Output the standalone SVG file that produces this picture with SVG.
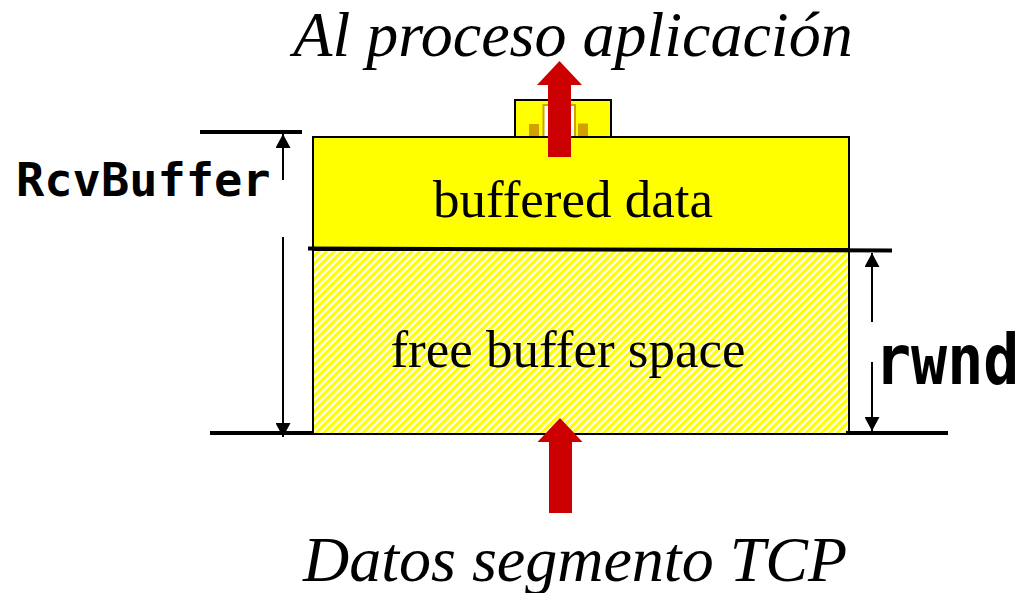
<svg xmlns="http://www.w3.org/2000/svg" width="1027" height="593" viewBox="0 0 1027 593">
  <style>
    .ital { font-family: "Liberation Serif", "Times New Roman", serif; font-style: italic; font-size: 64px; fill: #000; }
    .reg { font-family: "Liberation Serif", "Times New Roman", serif; font-size: 53px; fill: #000; }
    .mono { font-family: "DejaVu Sans Mono", "Liberation Mono", monospace; font-weight: bold; fill: #000; }
    .thin { stroke: #000; stroke-width: 2; fill: none; }
    .rule { stroke: #000; stroke-width: 4; fill: none; }
    .red { fill: #cc0000; }
  </style>
  <defs>
    <pattern id="hatch" patternUnits="userSpaceOnUse" width="5.5" height="5.5" patternTransform="rotate(45)">
      <rect width="5.5" height="5.5" fill="#ffffff"/>
      <rect width="3.3" height="5.5" fill="#ffff00"/>
    </pattern>
    <marker id="ah" viewBox="0 0 14 15" refX="14" refY="7.5" markerWidth="14" markerHeight="15" markerUnits="userSpaceOnUse" orient="auto">
      <path d="M0,0 L14,7.5 L0,15 Z" fill="#000"/>
    </marker>
  </defs>

  <g id="title-top">
    <text class="ital" x="573" y="56" text-anchor="middle">Al proceso aplicación</text>
  </g>

  <g id="app-box">
    <rect x="515" y="100" width="96" height="37" fill="#ffff00" stroke="#000" stroke-width="2"/>
    <rect x="543.5" y="105" width="31.5" height="32" fill="#ffffff" stroke="#d4a000" stroke-width="2"/>
    <rect x="529" y="124" width="10" height="13" fill="#d4a000"/>
    <rect x="578" y="123.5" width="10" height="13.5" fill="#d4a000"/>
  </g>

  <g id="buffered-data">
    <rect x="313" y="137" width="536" height="112" fill="#ffff00" stroke="#000" stroke-width="2"/>
    <text class="reg" x="573" y="217" text-anchor="middle">buffered data</text>
  </g>

  <g id="free-buffer-space">
    <rect x="313" y="250" width="536" height="184" fill="url(#hatch)" stroke="#000" stroke-width="2"/>
    <text class="reg" x="568" y="367" text-anchor="middle">free buffer space</text>
  </g>

  <g id="arrow-up-app">
    <path class="red" d="M559.5,61 L582,85 L571,85 L571,157 L548,157 L548,85 L537,85 Z"/>
  </g>

  <g id="arrow-up-tcp">
    <path class="red" d="M560,418 L582.5,442 L572,442 L572,513 L549,513 L549,442 L537.5,442 Z"/>
  </g>

  <g id="connectors">
    <line class="rule" x1="308" y1="248.5" x2="892" y2="250.5"/>
    <line class="rule" x1="200" y1="132" x2="302" y2="132" stroke-width="3.5"/>
    <line class="rule" x1="210" y1="433" x2="313" y2="433"/>
    <line class="rule" x1="846" y1="433" x2="948" y2="433"/>
    <line class="thin" x1="283" y1="180" x2="283" y2="134" marker-end="url(#ah)"/>
    <line class="thin" x1="283" y1="237" x2="283" y2="437" marker-end="url(#ah)"/>
    <line class="thin" x1="872" y1="322" x2="872" y2="253" marker-end="url(#ah)"/>
    <line class="thin" x1="872" y1="362" x2="872" y2="431" marker-end="url(#ah)"/>
  </g>

  <g id="label-rcvbuffer">
    <text class="mono" x="16" y="196" font-size="47">RcvBuffer</text>
  </g>

  <g id="label-rwnd" transform="translate(875,384) scale(1,1.15)">
    <text class="mono" x="0" y="0" font-size="60">rwnd</text>
  </g>

  <g id="title-bottom">
    <text class="ital" x="575" y="581" text-anchor="middle">Datos segmento TCP</text>
  </g>
</svg>
